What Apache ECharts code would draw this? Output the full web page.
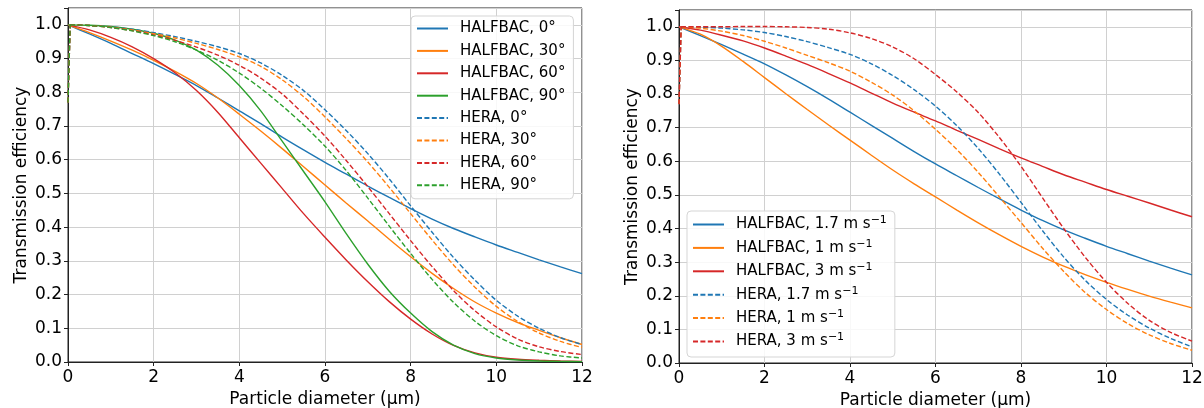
<!DOCTYPE html>
<html>
<head>
<meta charset="utf-8">
<script src="https://cdn.jsdelivr.net/npm/echarts@6/dist/echarts.min.js"></script>
<style>
html,body{margin:0;padding:0;background:#fff;}
#c{width:1204px;height:408px;}
</style>
</head>
<body>
<div id="c"></div>
<script>
// ---------- data ----------
const xTicks = [0, 2, 4, 6, 8, 10, 12];
const xHalf = [0,0.5,1,1.5,2,2.5,3,3.5,4,4.5,5,5.5,6,6.5,7,7.5,8,8.5,9,9.5,10,10.5,11,11.5,12];
const xHera = [0,0.05,0.5,1,1.5,2,2.5,3,3.5,4,4.5,5,5.5,6,6.5,7,7.5,8,8.5,9,9.5,10,10.5,11,11.5,12];

// left panel (inlet angle)
const namesL = ["HALFBAC, 0°","HALFBAC, 30°","HALFBAC, 60°","HALFBAC, 90°","HERA, 0°","HERA, 30°","HERA, 60°","HERA, 90°"];
const halfbac0  = [1,0.973,0.945,0.915,0.885,0.853,0.82,0.783,0.745,0.707,0.667,0.629,0.592,0.557,0.522,0.488,0.455,0.424,0.396,0.371,0.347,0.325,0.303,0.282,0.262];
const halfbac30 = [1,0.977,0.952,0.925,0.895,0.862,0.826,0.783,0.735,0.685,0.633,0.579,0.525,0.471,0.418,0.364,0.312,0.263,0.218,0.178,0.145,0.117,0.094,0.072,0.052];
const halfbac60 = [1,0.985,0.963,0.935,0.9,0.858,0.805,0.74,0.665,0.59,0.515,0.44,0.37,0.302,0.238,0.179,0.127,0.083,0.049,0.027,0.014,0.008,0.005,0.003,0.002];
const halfbac90 = [1,0.999,0.995,0.987,0.975,0.955,0.925,0.88,0.82,0.745,0.655,0.565,0.475,0.38,0.29,0.21,0.145,0.09,0.05,0.025,0.012,0.006,0.003,0.002,0.001];
const hera0  = [0.77,1,0.998,0.994,0.987,0.977,0.965,0.951,0.935,0.915,0.887,0.85,0.805,0.748,0.686,0.618,0.543,0.463,0.385,0.31,0.243,0.183,0.136,0.1,0.072,0.052];
const hera30 = [0.77,1,0.998,0.993,0.985,0.974,0.961,0.945,0.927,0.905,0.877,0.837,0.787,0.727,0.662,0.593,0.518,0.44,0.362,0.288,0.222,0.165,0.12,0.086,0.061,0.043];
const hera60 = [0.77,1,0.998,0.992,0.983,0.97,0.954,0.934,0.91,0.88,0.842,0.795,0.735,0.67,0.597,0.52,0.44,0.36,0.283,0.212,0.152,0.104,0.068,0.045,0.031,0.022];
const hera90 = [0.77,1,0.998,0.992,0.982,0.968,0.95,0.925,0.895,0.857,0.812,0.76,0.703,0.64,0.567,0.486,0.403,0.322,0.245,0.177,0.121,0.078,0.048,0.03,0.018,0.012];

// right panel (wind speed)
const namesR = ["HALFBAC, 1.7 m s−1","HALFBAC, 1 m s−1","HALFBAC, 3 m s−1","HERA, 1.7 m s−1","HERA, 1 m s−1","HERA, 3 m s−1"];
const halfbac17 = [1,0.974,0.947,0.919,0.89,0.857,0.822,0.785,0.746,0.707,0.668,0.629,0.592,0.557,0.522,0.488,0.455,0.424,0.396,0.371,0.347,0.325,0.303,0.282,0.262];
const halfbac1  = [1,0.978,0.942,0.897,0.849,0.801,0.754,0.708,0.663,0.618,0.574,0.533,0.494,0.455,0.417,0.381,0.347,0.316,0.288,0.263,0.24,0.219,0.199,0.181,0.164];
const halfbac3  = [1,0.99,0.975,0.958,0.937,0.913,0.888,0.861,0.833,0.803,0.773,0.746,0.72,0.692,0.665,0.637,0.61,0.585,0.56,0.538,0.516,0.496,0.476,0.455,0.435];
const hera17 = [0.77,1,0.999,0.996,0.991,0.983,0.971,0.956,0.938,0.918,0.89,0.855,0.813,0.764,0.706,0.638,0.561,0.478,0.394,0.315,0.246,0.189,0.142,0.104,0.073,0.048];
const hera1  = [0.77,1,0.996,0.987,0.974,0.957,0.937,0.915,0.893,0.868,0.835,0.797,0.75,0.695,0.635,0.567,0.493,0.418,0.342,0.272,0.21,0.159,0.117,0.084,0.058,0.038];
const hera3  = [0.77,1,1,1,1.001,1.001,1,0.998,0.993,0.982,0.965,0.94,0.905,0.858,0.806,0.745,0.67,0.585,0.492,0.4,0.315,0.24,0.177,0.127,0.091,0.065];

const colors = ["#1f77b4","#ff7f0e","#d62728","#2ca02c"];
const FONT = "DejaVu Sans";

function pairs(xs, ys){ return xs.map((x,i)=>[x, ys[i]]); }
function line(name, data, color, dashed, idx){
  return {
    name, type:'line', xAxisIndex:idx, yAxisIndex:idx,
    data, symbol:'none', smooth:0.3,
    lineStyle:{color, width:1.4, type: dashed ? [5,2.4] : 'solid'},
    itemStyle:{color}, emphasis:{disabled:true}, animation:false
  };
}
function half(name, ys, color, idx){ return [line(name, pairs(xHalf, ys), color, false, idx)]; }
function hera(name, ys, color, idx){
  // first two points form the steep start at d = 0; the curve itself is smoothed from the second point on
  return [
    line(name, pairs(xHera.slice(1), ys.slice(1)), color, true, idx),
    line(name + ' (start)', pairs(xHera.slice(0,2), ys.slice(0,2)), color, true, idx)
  ];
}

const series = [].concat(
  half(namesL[0], halfbac0, colors[0], 0),
  half(namesL[1], halfbac30, colors[1], 0),
  half(namesL[2], halfbac60, colors[2], 0),
  half(namesL[3], halfbac90, colors[3], 0),
  hera(namesL[4], hera0, colors[0], 0),
  hera(namesL[5], hera30, colors[1], 0),
  hera(namesL[6], hera60, colors[2], 0),
  hera(namesL[7], hera90, colors[3], 0),
  half(namesR[0], halfbac17, colors[0], 1),
  half(namesR[1], halfbac1, colors[1], 1),
  half(namesR[2], halfbac3, colors[2], 1),
  hera(namesR[3], hera17, colors[0], 1),
  hera(namesR[4], hera1, colors[1], 1),
  hera(namesR[5], hera3, colors[2], 1)
);

function xAx(idx){
  return {
    type:'value', gridIndex:idx, min:0, max:12, interval:2,
    name:'Particle diameter (μm)', nameLocation:'middle', nameGap:28,
    nameTextStyle:{fontFamily:FONT, fontSize:17, color:'#000'},
    axisLine:{show:true, onZero:false, lineStyle:{color:'#222', width:1}},
    axisTick:{show:true, inside:false, length:4, lineStyle:{color:'#222', width:1}},
    axisLabel:{fontFamily:FONT, fontSize:17, color:'#000', margin:7},
    splitLine:{show:true, lineStyle:{color:'#d0d0d0', width:1}}
  };
}
function yAx(idx){
  return {
    type:'value', gridIndex:idx, min:0, max:1.05, interval:0.1,
    name:'Transmission efficiency', nameLocation:'middle', nameGap:38,
    nameTextStyle:{fontFamily:FONT, fontSize:17, color:'#000'},
    axisLine:{show:true, lineStyle:{color:'#222', width:1}},
    axisTick:{show:true, inside:false, length:4, lineStyle:{color:'#222', width:1}},
    axisLabel:{fontFamily:FONT, fontSize:17, color:'#000', margin:6,
      formatter: v => v > 1.001 ? '' : v.toFixed(1)},
    splitLine:{show:true, lineStyle:{color:'#d0d0d0', width:1}}
  };
}

const legendBase = {
  orient:'vertical', itemWidth:31, itemHeight:15,
  backgroundColor:'rgba(255,255,255,0.85)', borderColor:'#d5d5d5', borderWidth:1, borderRadius:4,
  selectedMode:false,
  itemStyle:{opacity:0, borderWidth:0}
};

const option = {
  backgroundColor:'#fff',
  animation:false,
  grid:[
    {left:68, top:8, width:514, height:354, show:true, borderColor:'#222', borderWidth:1, backgroundColor:'transparent', containLabel:false, outerBoundsMode:'none'},
    {left:679, top:10, width:513, height:353, show:true, borderColor:'#222', borderWidth:1, backgroundColor:'transparent', containLabel:false, outerBoundsMode:'none'}
  ],
  xAxis:[xAx(0), xAx(1)],
  yAxis:[yAx(0), yAx(1)],
  legend:[
    Object.assign({}, legendBase, {
      data: namesL, left:411, top:16, itemGap:7.4,
      padding:[5,8,6,5],
      textStyle:{fontFamily:FONT, fontSize:15, color:'#000', lineHeight:15, padding:[0,0,0,7]}
    }),
    Object.assign({}, legendBase, {
      data: namesR, left:687, top:211, itemGap:4.4,
      padding:[4,8,6,5],
      formatter: n => n.replace('s−1', 's{sup|−1}'),
      textStyle:{fontFamily:FONT, fontSize:15, color:'#000', lineHeight:19, padding:[0,0,0,7],
        rich:{sup:{fontFamily:FONT, fontSize:11, lineHeight:12, verticalAlign:'top', color:'#000'}}}
    })
  ],
  series
};

const chart = echarts.init(document.getElementById('c'), null, {renderer:'canvas'});
chart.setOption(option);
</script>
</body>
</html>
